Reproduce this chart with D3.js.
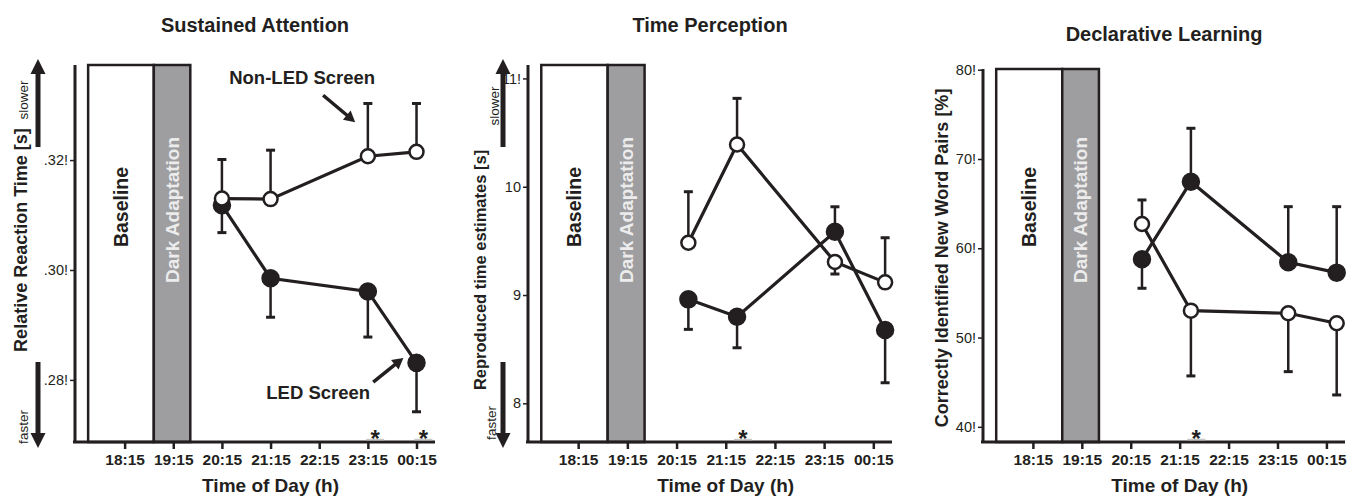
<!DOCTYPE html>
<html><head><meta charset="utf-8">
<script src="https://cdn.jsdelivr.net/npm/d3@7"></script>
<style>
body{margin:0;background:#fff}
svg{display:block}
text{font-family:"Liberation Sans",Arial,Helvetica,sans-serif;fill:#231f20}
</style>
</head><body>
<svg id="c" width="1347" height="496"></svg>
<script>
// ---------- shared x categories ----------
const timeLabels = ["18:15","19:15","20:15","21:15","22:15","23:15","00:15"];
const timeIdx = [0,1,2,3,4,5,6];

// ---------- Sustained Attention ----------
const saX = [2, 3, 5, 6];
const saLED = [0.3118, 0.2985, 0.2961, 0.2831];
const saLEDErr = [0.3068, 0.2914, 0.2878, 0.2742];
const saNon = [0.3130, 0.3129, 0.3207, 0.3215];
const saNonErr = [0.3201, 0.3218, 0.3303, 0.3303];
const saTicks = [0.28, 0.30, 0.32];
const saTickLabels = [".28!", ".30!", ".32!"];
const saStars = [5.15, 6.14];

// ---------- Time Perception ----------
const tpX = [2.24, 3.23, 5.22, 6.24];
const tpLED = [8.96, 8.80, 9.585, 8.677];
const tpLEDErr = [8.683, 8.513, 9.815, 8.19];
const tpNon = [9.483, 10.39, 9.305, 9.117];
const tpNonErr = [9.954, 10.816, 9.194, 9.529];
const tpTicks = [8, 9, 10, 11];
const tpTickLabels = ["8", "9", "10", "11!"];
const tpStars = [3.35];

// ---------- Declarative Learning ----------
const dlX = [2.23, 3.23, 5.22, 6.21];
const dlLED = [58.77, 67.46, 58.43, 57.27];
const dlLEDErr = [55.52, 73.44, 64.66, 64.66];
const dlNon = [62.72, 53.01, 52.72, 51.60];
const dlNonErr = [65.41, 45.70, 46.18, 43.57];
const dlTicks = [40, 50, 60, 70, 80];
const dlTickLabels = ["40!", "50!", "60!", "70!", "80!"];
const dlStars = [3.34];

// condition periods (hours from 18:15)
const baselinePeriod = [-0.75, 0.6];
const darkPeriod = [0.6, 1.35];

const ink = "#231f20";
const svg = d3.select("#c");
const AXIS_Y = 442;

const panels = [
  {title:"Sustained Attention", titleY:32, left:75, right:435, yDom:[0.2687,0.3373],
   xs:saX, led:saLED, ledErr:saLEDErr, non:saNon, nonErr:saNonErr,
   ticks:saTicks, tickLabels:saTickLabels, stars:saStars,
   ylabel:"Relative Reaction Time [s]", ylx:21, yly:240, ylSize:18,
   arrows:{x:38, slowX:23, slowY:100, fastX:23, fastY:427}},
  {title:"Time Perception", titleY:32, left:528, right:892, yDom:[7.643,11.124],
   xs:tpX, led:tpLED, ledErr:tpLEDErr, non:tpNon, nonErr:tpNonErr,
   ticks:tpTicks, tickLabels:tpTickLabels, stars:tpStars,
   ylabel:"Reproduced time estimates [s]", ylx:480, yly:270, ylSize:16.5,
   arrows:{x:503, slowX:494, slowY:106, fastX:491, fastY:423}},
  {title:"Declarative Learning", titleY:41, left:983, right:1345, yDom:[38.3,80.08],
   xs:dlX, led:dlLED, ledErr:dlLEDErr, non:dlNon, nonErr:dlNonErr,
   ticks:dlTicks, tickLabels:dlTickLabels, stars:dlStars,
   ylabel:"Correctly Identified New Word Pairs [%]", ylx:942, yly:258, ylSize:18,
   arrows:null}
];

function arrow(g, x1, y1, x2, y2, w, hl, hw) {
  const dx = x2 - x1, dy = y2 - y1, L = Math.hypot(dx, dy);
  const ux = dx / L, uy = dy / L, px = -uy, py = ux;
  const bx = x2 - ux * hl, by = y2 - uy * hl;
  g.append("line").attr("x1", x1).attr("y1", y1).attr("x2", bx + ux*1).attr("y2", by + uy*1)
    .attr("stroke", ink).attr("stroke-width", w);
  g.append("path").attr("d", `M${x2},${y2}L${bx + px*hw/2},${by + py*hw/2}L${bx - px*hw/2},${by - py*hw/2}Z`)
    .attr("fill", ink);
}

function rotText(g, cx, cy, txt, size, weight, fill) {
  return g.append("text").attr("transform", `translate(${cx},${cy}) rotate(-90)`)
    .attr("text-anchor", "middle").attr("dominant-baseline", "central")
    .style("font-size", size + "px").style("font-weight", weight)
    .style("fill", fill || ink).text(txt);
}

panels.forEach((p, pi) => {
  const x = d3.scaleLinear().domain([-1.02, 6.38]).range([p.left, p.right]);
  const y = d3.scaleLinear().domain(p.yDom).range([AXIS_Y, pi === 2 ? 69 : 65]);
  const g = svg.append("g");
  const top = y(p.yDom[1]);

  // condition boxes
  g.append("rect").attr("x", x(baselinePeriod[0])).attr("y", top)
    .attr("width", x(baselinePeriod[1]) - x(baselinePeriod[0])).attr("height", AXIS_Y - top)
    .attr("fill", "#fff").attr("stroke", ink).attr("stroke-width", 2.5);
  g.append("rect").attr("x", x(darkPeriod[0])).attr("y", top)
    .attr("width", x(darkPeriod[1]) - x(darkPeriod[0])).attr("height", AXIS_Y - top)
    .attr("fill", "#9e9ea1").attr("stroke", ink).attr("stroke-width", 2.5);
  rotText(g, (x(baselinePeriod[0]) + x(baselinePeriod[1])) / 2, 207, "Baseline", 19.5, "bold");
  rotText(g, (x(darkPeriod[0]) + x(darkPeriod[1])) / 2, 210, "Dark Adaptation", 19, "bold", "#ececec");

  // axes
  const xa = g.append("g").attr("transform", `translate(0,${AXIS_Y})`)
    .call(d3.axisBottom(x).tickValues(timeIdx).tickFormat(i => timeLabels[i]).tickSize(7));
  xa.select(".domain").remove();
  xa.selectAll(".tick line").attr("stroke", ink).attr("stroke-width", 2.5);
  xa.selectAll(".tick text").attr("y", 23).attr("dy", 0)
    .style("font-size", "15.5px").style("font-weight", "bold").style("fill", ink);
  g.append("line").attr("x1", p.left - 2).attr("x2", p.right).attr("y1", AXIS_Y).attr("y2", AXIS_Y)
    .attr("stroke", ink).attr("stroke-width", 3);

  const ya = g.append("g").attr("transform", `translate(${p.left},0)`)
    .call(d3.axisLeft(y).tickValues(p.ticks).tickFormat((d, i) => p.tickLabels[i]).tickSize(5).tickPadding(2));
  ya.select(".domain").remove();
  ya.selectAll(".tick line").attr("stroke", ink).attr("stroke-width", 1.5);
  ya.selectAll(".tick text").style("font-size", "14.5px").style("fill", ink);
  g.append("line").attr("x1", p.left).attr("x2", p.left).attr("y1", pi === 2 ? 69 : 65).attr("y2", AXIS_Y)
    .attr("stroke", ink).attr("stroke-width", 3);

  // titles
  g.append("text").attr("x", (p.left + p.right) / 2).attr("y", p.titleY).attr("text-anchor", "middle")
    .style("font-size", "20px").style("font-weight", "bold").text(p.title);
  g.append("text").attr("x", x(3)).attr("y", 492).attr("text-anchor", "middle")
    .style("font-size", "19px").style("font-weight", "bold").text("Time of Day (h)");
  rotText(g, p.ylx, p.yly, p.ylabel, p.ylSize, "bold");

  // slower / faster arrows
  if (p.arrows) {
    const a = p.arrows;
    arrow(g, a.x, 147, a.x, 59, 5, 15, 15);
    arrow(g, a.x, 362, a.x, 448, 5, 15, 15);
    rotText(g, a.slowX, a.slowY, "slower", 13.5, "normal");
    rotText(g, a.fastX, a.fastY, "faster", 13.5, "normal");
  }

  // significance stars
  p.stars.forEach(s => {
    g.append("line").attr("x1", x(s) - 9).attr("x2", x(s) + 9).attr("y1", 439.5).attr("y2", 439.5)
      .attr("stroke", "#c8c8c8").attr("stroke-width", 1.5);
    g.append("text").attr("x", x(s)).attr("y", 447).attr("text-anchor", "middle")
      .style("font-size", "24px").style("font-weight", "bold").text("*");
  });

  // series
  const line = d3.line().x((d, i) => x(p.xs[i])).y(d => y(d));
  const series = [
    {vals: p.led, err: p.ledErr, fill: ink},
    {vals: p.non, err: p.nonErr, fill: "#fff"}
  ];
  series.forEach(s => {
    s.vals.forEach((v, i) => {
      g.append("line").attr("x1", x(p.xs[i])).attr("x2", x(p.xs[i]))
        .attr("y1", y(v)).attr("y2", y(s.err[i])).attr("stroke", ink).attr("stroke-width", 2.5);
      g.append("line").attr("x1", x(p.xs[i]) - 4.5).attr("x2", x(p.xs[i]) + 4.5)
        .attr("y1", y(s.err[i])).attr("y2", y(s.err[i])).attr("stroke", ink).attr("stroke-width", 3);
    });
  });
  series.forEach(s => {
    g.append("path").datum(s.vals).attr("d", line).attr("fill", "none")
      .attr("stroke", ink).attr("stroke-width", 3.2);
    g.selectAll(null).data(s.vals).enter().append("circle")
      .attr("cx", (d, i) => x(p.xs[i])).attr("cy", d => y(d))
      .attr("r", s.fill === ink ? 8 : 7)
      .attr("fill", s.fill).attr("stroke", ink).attr("stroke-width", 2.5);
  });

  // annotations (first panel only)
  if (pi === 0) {
    g.append("text").attr("x", x(3.65)).attr("y", y(0.3338)).attr("text-anchor", "middle")
      .style("font-size", "18.5px").style("font-weight", "bold").text("Non-LED Screen");
    arrow(g, x(4.08), y(0.3318), x(4.74), y(0.3269), 3.5, 11, 12);
    g.append("text").attr("x", x(3.98)).attr("y", y(0.2765)).attr("text-anchor", "middle")
      .style("font-size", "18.5px").style("font-weight", "bold").text("LED Screen");
    arrow(g, x(5.11), y(0.2796), x(5.73), y(0.2840), 3.5, 11, 12);
  }
});
</script>
</body></html>
